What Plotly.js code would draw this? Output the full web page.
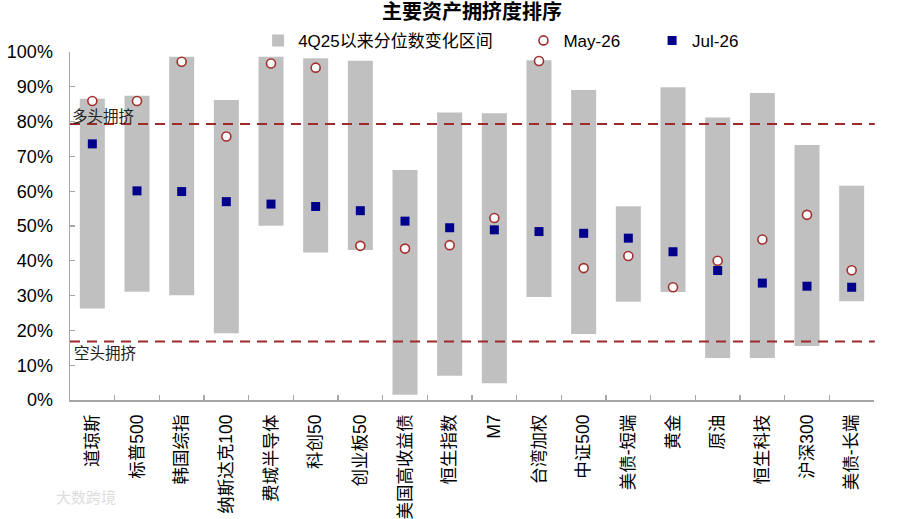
<!DOCTYPE html>
<html>
<head>
<meta charset="utf-8">
<script src="https://cdn.plot.ly/plotly-3.0.1.min.js"></script>
<style>
  html, body { margin: 0; padding: 0; background: #fff; }
  #chart { width: 900px; height: 519px; }
</style>
</head>
<body>
<div id="chart"></div>
<script>
const categories = ["道琼斯", "标普500", "韩国综指", "纳斯达克100", "费城半导体", "科创50", "创业板50", "美国高收益债", "恒生指数", "M7", "台湾加权", "中证500", "美债-短端", "黄金", "原油", "恒生科技", "沪深300", "美债-长端"];
const rangeHigh = [86.6, 87.4, 98.6, 86.2, 98.6, 98.2, 97.5, 66.1, 82.6, 82.4, 97.6, 89.1, 55.7, 89.9, 81.2, 88.2, 73.3, 61.6];
const rangeLow  = [26.3, 31.1, 30.1, 19.2, 50.1, 42.4, 43.1, 1.5, 7.0, 4.8, 29.6, 19.0, 28.2, 31.0, 12.1, 12.1, 15.5, 28.4];
const may26 = [85.9, 85.9, 97.2, 75.7, 96.7, 95.5, 44.3, 43.5, 44.5, 52.3, 97.4, 37.9, 41.4, 32.4, 40.0, 46.1, 53.2, 37.3];
const jul26 = [73.6, 60.1, 59.9, 57.0, 56.3, 55.6, 54.4, 51.4, 49.5, 48.9, 48.4, 47.9, 46.5, 42.6, 37.2, 33.6, 32.7, 32.4];
const longCrowded = 79.3;
const shortCrowded = 16.8;
const yTicks = [0, 10, 20, 30, 40, 50, 60, 70, 80, 90, 100];

const FONT = "Liberation Sans, Arial, Noto Sans CJK SC, sans-serif";
const rangeSpan = rangeHigh.map((h, i) => h - rangeLow[i]);

const traces = [
  {
    type: "bar", name: "4Q25以来分位数变化区间",
    x: categories, y: rangeSpan, base: rangeLow,
    marker: { color: "#c0c0c0" }, width: 0.56,
    legend: "legend", hoverinfo: "skip"
  },
  {
    type: "scatter", mode: "markers", name: "May-26",
    x: categories, y: may26,
    marker: { symbol: "circle", size: 9, color: "#ffffff", line: { color: "#a3302e", width: 1.6 } },
    legend: "legend2"
  },
  {
    type: "scatter", mode: "markers", name: "Jul-26",
    x: categories, y: jul26,
    marker: { symbol: "square", size: 9, color: "#00008b", line: { width: 0 } },
    legend: "legend3"
  }
];

const legendBase = { orientation: "h", yanchor: "middle", y: 1.032, xanchor: "left",
  font: { family: FONT, size: 17, color: "#000" }, bgcolor: "rgba(0,0,0,0)", itemwidth: 30 };

const layout = {
  width: 900, height: 519,
  margin: { l: 70, r: 26, t: 52, b: 119 },
  paper_bgcolor: "#fff", plot_bgcolor: "#fff",
  font: { family: FONT, size: 17, color: "#000" },
  title: { text: "<b>主要资产拥挤度排序</b>", x: 0.5, xref: "paper", xanchor: "center", y: 0.977, yref: "container", yanchor: "middle",
    font: { family: FONT, size: 20, color: "#000" } },
  showlegend: true,
  legend: Object.assign({}, legendBase, { x: 0.234 }),
  legend2: Object.assign({}, legendBase, { x: 0.564 }),
  legend3: Object.assign({}, legendBase, { x: 0.724 }),
  xaxis: {
    type: "category", tickangle: -90, showline: true, linecolor: "#a6a6a6", linewidth: 1.5,
    ticks: "inside", tickson: "boundaries", ticklen: 5, tickcolor: "#a6a6a6", tickwidth: 1.2,
    showgrid: false, zeroline: false, tickfont: { family: FONT, size: 17.5, color: "#000" },
    ticklabelstandoff: 6, range: [-0.5, 17.5], fixedrange: true
  },
  yaxis: {
    range: [0, 100], tickvals: yTicks, ticktext: yTicks.map(v => v + "%"),
    showline: true, linecolor: "#a6a6a6", linewidth: 1.5, ticks: "inside", ticklen: 5,
    tickcolor: "#a6a6a6", tickwidth: 1.2, showgrid: false, zeroline: false,
    tickfont: { family: FONT, size: 18, color: "#000" }, ticklabelstandoff: 12, fixedrange: true
  },
  bargap: 0.44,
  shapes: [
    { type: "line", xref: "paper", x0: 0, x1: 1.001, yref: "y", y0: longCrowded, y1: longCrowded,
      line: { color: "#9e2a2b", width: 2, dash: "10px,7px" } },
    { type: "line", xref: "paper", x0: 0, x1: 1.001, yref: "y", y0: shortCrowded, y1: shortCrowded,
      line: { color: "#9e2a2b", width: 2, dash: "10px,7px" } }
  ],
  annotations: [
    { text: "多头拥挤", xref: "paper", x: 0.0, xanchor: "left", yref: "y", y: longCrowded, yanchor: "bottom", yshift: -3,
      showarrow: false, font: { family: FONT, size: 15.5, color: "#222" } },
    { text: "空头拥挤", xref: "paper", x: 0.003, xanchor: "left", yref: "y", y: shortCrowded, yanchor: "top", yshift: -1,
      showarrow: false, font: { family: FONT, size: 15.5, color: "#222" } },
    { text: "大数跨境", xref: "paper", x: -0.02, xanchor: "left", yref: "paper", y: -0.28, yanchor: "middle",
      showarrow: false, font: { family: FONT, size: 15, color: "#dddddd" } }
  ]
};

Plotly.newPlot("chart", traces, layout, { displayModeBar: false, staticPlot: true });
</script>
</body>
</html>
